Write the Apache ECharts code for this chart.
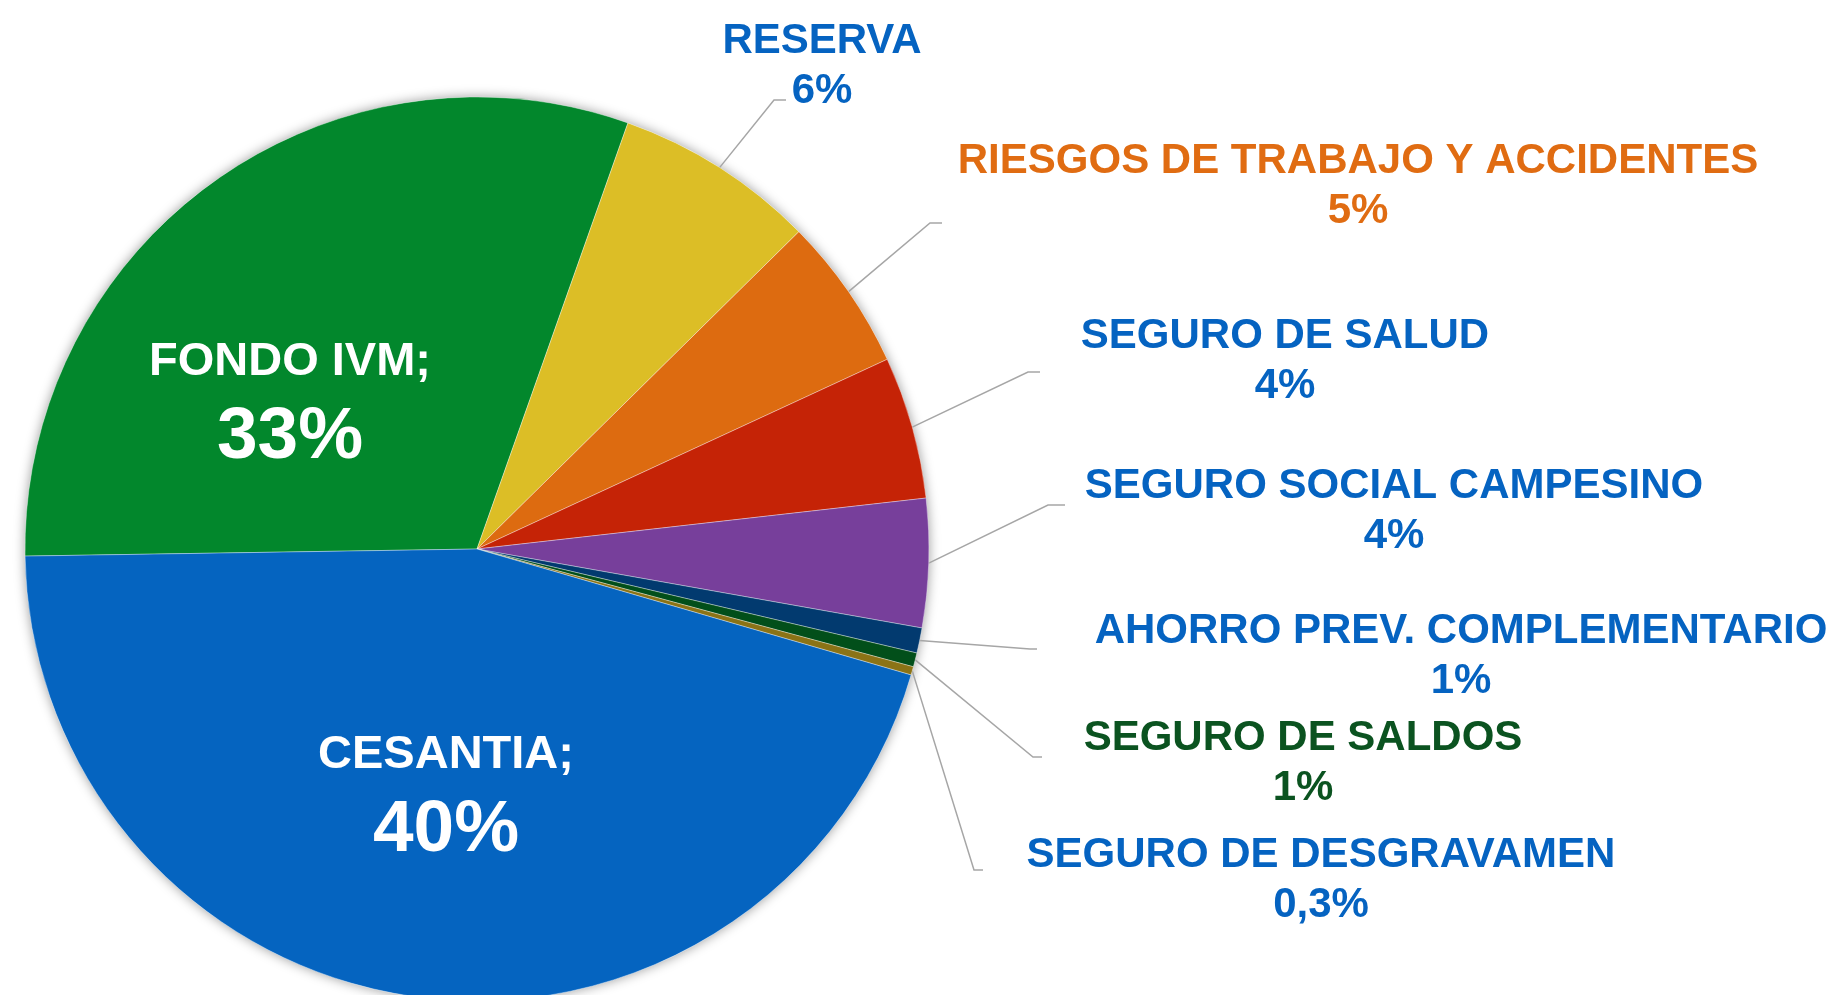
<!DOCTYPE html>
<html>
<head>
<meta charset="utf-8">
<script src="https://cdn.jsdelivr.net/npm/echarts@6/dist/echarts.min.js"></script>
<style>
    html, body {margin: 0; padding: 0; background: #fff;}
    #main {width: 1840px; height: 995px;}
</style>
</head>
<body>
<div id="main"></div>
<script>
    // datos del grafico (orden horario, empezando por FONDO IVM)
    var categorias = ['FONDO IVM', 'RESERVA', 'RIESGOS DE TRABAJO Y ACCIDENTES', 'SEGURO DE SALUD',
        'SEGURO SOCIAL CAMPESINO', 'AHORRO PREV. COMPLEMENTARIO', 'SEGURO DE SALDOS',
        'SEGURO DE DESGRAVAMEN', 'CESANTIA'];
    var valores = [30.7, 7.2, 5.5, 5.1, 4.6, 0.9, 0.5, 0.3, 45.3];
    var porcentajes = ['33%', '6%', '5%', '4%', '4%', '1%', '1%', '0,3%', '40%'];//texto de las etiquetas

    var colores = ['#02872c', '#dcbe26', '#dd6b10', '#c52306', '#773f9b', '#023a6f', '#024f1a', '#8b7316', '#0564c0'];
    var coloresTexto = ['#fff', '#0563c1', '#e06c12', '#0563c1', '#0563c1', '#0563c1', '#0b5320', '#0563c1', '#fff'];

    // posicion de etiquetas y lineas guia
    var posEtiquetas = [[290, 410], [822, 66], [1358, 186], [1285, 361], [1394, 511], [1461, 656], [1303, 763], [1321, 880], [446, 803]];
    var codos = [null, [774, 100], [930, 223], [1028, 372], [1048, 505], [1030, 649], [1033, 757], [974, 870], null];
    var finLinea = [null, [786, 100], [942, 223], [1040, 372], [1065, 505], [1037, 649], [1042, 757], [983, 870], null];

    var dentro = function (i) {
        return i == 0 || i == 8;
    };

    var datos = [];
    for (var i = 0; i < categorias.length; i++) {
        datos.push({
            name: categorias[i],
            value: valores[i],
            itemStyle: {color: colores[i]},
            label: {
                position: dentro(i) ? 'inside' : 'outside',
                color: coloresTexto[i]
            },
            labelLine: {show: !dentro(i)}
        });
    }

    var fuente = '"Liberation Sans", Arial, sans-serif';

    var option = {
        backgroundColor: '#fff',
        animation: false,
        series: [
            {
                // sombra debajo del circulo
                type: 'pie',
                silent: true,
                z: 1,
                center: [477, 549],
                radius: 452,
                label: {show: false},
                labelLine: {show: false},
                itemStyle: {
                    color: '#fff',
                    shadowBlur: 12,
                    shadowColor: 'rgba(0,0,0,0.4)'
                },
                data: [1]
            },
            {
                type: 'pie',
                z: 2,
                center: [477, 549],
                radius: 452,
                startAngle: 180.9,
                clockwise: true,
                avoidLabelOverlap: false,
                itemStyle: {
                    borderColor: 'rgba(255,255,255,0.5)',
                    borderWidth: 0.7
                },
                label: {
                    show: true,
                    fontFamily: fuente,
                    fontWeight: 'bold',
                    fontSize: 42,
                    lineHeight: 50,
                    formatter: function (p) {
                        if (dentro(p.dataIndex)) {
                            return '{a|' + p.name + ';}\n{b|' + porcentajes[p.dataIndex] + '}';
                        }
                        return p.name + '\n' + porcentajes[p.dataIndex];
                    },
                    rich: {
                        a: {fontFamily: fuente, fontWeight: 'bold', fontSize: 47, lineHeight: 56, color: '#fff'},
                        b: {fontFamily: fuente, fontWeight: 'bold', fontSize: 73, lineHeight: 96, color: '#fff'}
                    }
                },
                labelLine: {
                    length: 40,
                    length2: 10,
                    lineStyle: {color: '#a6a6a6', width: 1.5}
                },
                labelLayout: function (params) {
                    var i = params.dataIndex;
                    var p = posEtiquetas[i];
                    var out = {x: p[0], y: p[1], align: 'center', verticalAlign: 'middle'};
                    if (codos[i] && params.labelLinePoints) {
                        out.labelLinePoints = [params.labelLinePoints[0], codos[i], finLinea[i]];
                    }
                    return out;
                },
                data: datos
            }
        ]
    };

    var myChart = echarts.init(document.getElementById('main'));
    myChart.setOption(option);
</script>
</body>
</html>
